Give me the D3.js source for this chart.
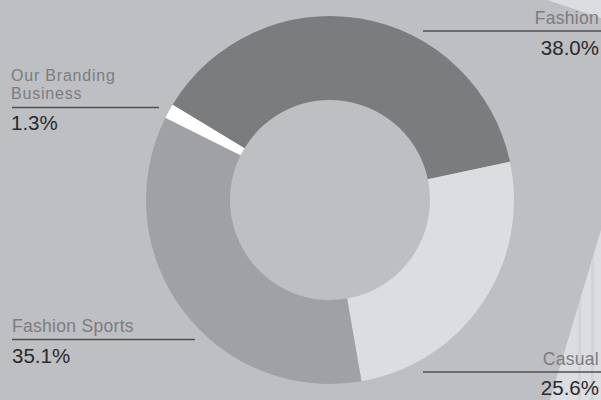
<!DOCTYPE html>
<html><head><meta charset="utf-8">
<script src="https://cdn.jsdelivr.net/npm/d3@7"></script>
<style>html,body{margin:0;padding:0;background:#bebfc2;overflow:hidden}svg{display:block}</style>
</head><body>
<svg id="c" width="601" height="400"></svg>
<script>
const categories = ["Fashion", "Casual", "Fashion Sports", "Our Branding Business"];
const values = [38.0, 25.6, 35.1, 1.3];
const valueLabels = ["38.0%", "25.6%", "35.1%", "1.3%"];
const colors = ["#7b7c7e", "#dcdde0", "#a0a1a4", "#ffffff"];

const W = 601, H = 400;
const svg = d3.select("#c");
svg.append("rect").attr("width", W).attr("height", H).attr("fill", "#bebfc2");

// background decorations
svg.append("path").attr("d", "M547,0 L601,0 L601,18 Z").attr("fill", "#dcdde0");
const defs = svg.append("defs");
defs.append("clipPath").attr("id", "band").append("path").attr("d", "M601,230 L601,400 L550,400 Z");
const band = svg.append("g").attr("clip-path", "url(#band)");
band.append("rect").attr("x", 540).attr("y", 220).attr("width", 61).attr("height", 180).attr("fill", "#dcdde0");
[578, 591].forEach(x => band.append("rect").attr("x", x).attr("y", 220).attr("width", 3).attr("height", 180).attr("fill", "#d2d3d6"));

// donut
const cx = 330, cy = 200;
const start = -58.8 * Math.PI / 180;
const pie = d3.pie().sort(null).startAngle(start).endAngle(start + 2 * Math.PI);
const arc = d3.arc().innerRadius(100).outerRadius(184);
const g = svg.append("g").attr("transform", `translate(${cx},${cy})`);
g.selectAll("path").data(pie(values)).join("path")
  .attr("d", arc).attr("fill", (d, i) => colors[i]);

// labels
const labelSpec = [
  {lines: ["Fashion"], x: 599, anchor: "end", base: 24, lineY: 31, x1: 423, x2: 601, valBase: 55, fs: 17.5, ls: 0.3},
  {lines: ["Casual"], x: 599, anchor: "end", base: 365, lineY: 372, x1: 423, x2: 601, valBase: 395, fs: 17.5, ls: 0.3},
  {lines: ["Fashion Sports"], x: 12, anchor: "start", base: 331.5, lineY: 339.5, x1: 12, x2: 195, valBase: 362.5, fs: 17.5, ls: 0.3},
  {lines: ["Our Branding", "Business"], x: 11, anchor: "start", base: 80.5, lineY: 107.5, x1: 12, x2: 159, valBase: 130, fs: 16, ls: 0.8}
];
const font = "'Liberation Sans', Arial, Helvetica, sans-serif";
labelSpec.forEach((s, i) => {
  s.lines.forEach((t, j) => {
    svg.append("text").attr("x", s.x).attr("y", s.base + j * 18.1)
      .attr("text-anchor", s.anchor).attr("font-family", font)
      .attr("font-size", s.fs).attr("letter-spacing", s.ls + "px").attr("fill", "#7b7c7f").text(t);
  });
  svg.append("line").attr("x1", s.x1).attr("x2", s.x2).attr("y1", s.lineY).attr("y2", s.lineY)
    .attr("stroke", "#4f4f51").attr("stroke-width", 1.3);
  svg.append("text").attr("x", s.x).attr("y", s.valBase)
    .attr("text-anchor", s.anchor).attr("font-family", font)
    .attr("font-size", 20.5).attr("fill", "#2a2a2c").text(valueLabels[i]);
});
</script>
</body></html>
